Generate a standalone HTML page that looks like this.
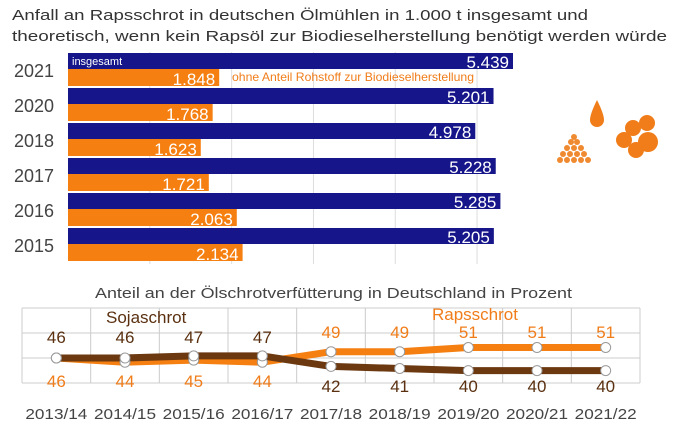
<!DOCTYPE html>
<html><head><meta charset="utf-8"><style>
body{margin:0;background:#fff;font-family:"Liberation Sans",sans-serif;}
#wrap{position:relative;width:688px;height:429px;overflow:hidden;}
</style></head><body>
<div id="wrap">
<svg id="svg" width="688" height="429" style="position:absolute;left:0;top:0">
<text x="12" y="20" font-size="15" fill="#333" textLength="576" lengthAdjust="spacingAndGlyphs">Anfall an Rapsschrot in deutschen Ölmühlen in 1.000 t insgesamt und</text>
<text x="12" y="41" font-size="15" fill="#333" textLength="655" lengthAdjust="spacingAndGlyphs">theoretisch, wenn kein Rapsöl zur Biodieselherstellung benötigt werden würde</text>
<g>
<path d="M597 100 Q590 114 590 120 A7 7 0 0 0 604 120 Q604 114 597 100Z" fill="#f07d1a"/>
<g fill="#f07d1a"><circle cx="633" cy="128" r="8"/><circle cx="647" cy="123" r="8"/><circle cx="624" cy="140" r="8"/><circle cx="648" cy="142" r="10"/><circle cx="636" cy="150" r="8"/></g>
<g fill="#f08a30"><circle cx="560" cy="160" r="3"/><circle cx="567" cy="160" r="3"/><circle cx="574" cy="160" r="3"/><circle cx="581" cy="160" r="3"/><circle cx="588" cy="160" r="3"/><circle cx="563" cy="154" r="3"/><circle cx="570" cy="154" r="3"/><circle cx="577" cy="154" r="3"/><circle cx="584" cy="154" r="3"/><circle cx="567" cy="148" r="3"/><circle cx="574" cy="148" r="3"/><circle cx="581" cy="148" r="3"/><circle cx="571" cy="142" r="3"/><circle cx="577" cy="142" r="3"/><circle cx="574" cy="137" r="3"/></g>
</g>
</svg>
</div>
<script>
const years=["2021","2020","2018","2017","2016","2015"];
const totalVals=[5439,5201,4978,5228,5285,5205];
const rapsVals=[1848,1768,1623,1721,2063,2134];
const seasons=["2013/14","2014/15","2015/16","2016/17","2017/18","2018/19","2019/20","2020/21","2021/22"];
const sojaVals=[46,46,47,47,42,41,40,40,40];
const rapsShare=[46,44,45,44,49,49,51,51,51];
const gridTicks=[1000,2000,3000,4000,5000];
const NS="http://www.w3.org/2000/svg";
const svg=document.getElementById('svg');
function mk(tag,attrs,parent){const e=document.createElementNS(NS,tag);for(const k in attrs)e.setAttribute(k,attrs[k]);(parent||svg).appendChild(e);return e;}
const fmt=v=>(v/1000).toFixed(3);
const x0=68,k=(513-68)/5439;
const xs=v=>x0+v*k;
const rowY=i=>53+i*35;
gridTicks.forEach(t=>{const l=mk('line',{x1:xs(t),x2:xs(t),y1:52,y2:264,stroke:'#ddd','stroke-width':1});

});
years.forEach((y,i)=>{
 const ty=mk('text',{x:14,y:rowY(i)+24,'font-size':18,fill:'#444'});ty.textContent=y;
 
 
 const b=mk('rect',{x:x0,y:rowY(i),width:xs(totalVals[i])-x0,height:16,fill:'#16168a'});
 
 
 const bt=mk('text',{x:xs(totalVals[i])-4,y:rowY(i)+15,'font-size':17,fill:'#fff','text-anchor':'end'});bt.textContent=fmt(totalVals[i]);
 
 
 const o=mk('rect',{x:x0,y:rowY(i)+16,width:xs(rapsVals[i])-x0,height:17,fill:'#f57f10'});
 
 
 const ot=mk('text',{x:xs(rapsVals[i])-4,y:rowY(i)+32,'font-size':17,fill:'#fff','text-anchor':'end'});ot.textContent=fmt(rapsVals[i]);
 
 
});
let lg=mk('text',{x:72,y:65,'font-size':11,fill:'#fff'});lg.textContent='insgesamt';


lg=mk('text',{x:232,y:81,'font-size':12,fill:'#f07d1a',textLength:242,lengthAdjust:'spacingAndGlyphs'});lg.textContent='ohne Anteil Rohstoff zur Biodieselherstellung';


let lt=mk('text',{x:95,y:298,'font-size':15,fill:'#444',textLength:477,lengthAdjust:'spacingAndGlyphs'});lt.textContent='Anteil an der Ölschrotverfütterung in Deutschland in Prozent';


const gx0=22,gx1=640,gy0=308,gy1=383,cw=(gx1-gx0)/9;
const lx=i=>gx0+cw*(i+0.5);
const ly=v=>358-(v-46)*2.1;
for(let i=0;i<=9;i++){const l=mk('line',{x1:gx0+cw*i,x2:gx0+cw*i,y1:gy0,y2:gy1,stroke:'#ccc'});

}
for(let j=0;j<=3;j++){const y=gy0+j*25;const l=mk('line',{x1:gx0,x2:gx1,y1:y,y2:y,stroke:'#ccc'});

}
function series(vals,color,name){
 const p=mk('polyline',{points:vals.map((v,i)=>lx(i)+','+ly(v)).join(' '),fill:'none',stroke:color,'stroke-width':7,'stroke-linejoin':'round'});
 
 
 return p;}
function dots(vals,name){vals.forEach((v,i)=>{const c=mk('circle',{cx:lx(i),cy:ly(v),r:5,fill:'#fff',stroke:'#999','stroke-width':1});
 
 });}
series(rapsShare,'#f57f10','raps');
series(sojaVals,'#6b3810','soja');
dots(rapsShare,'raps');dots(sojaVals,'soja');
seasons.forEach((s,i)=>{
 const sAbove=i<4;
 const st=mk('text',{x:lx(i),y:sAbove?343:392,'font-size':17,fill:'#5a3010','text-anchor':'middle'});st.textContent=sojaVals[i];
 
 
 const rt=mk('text',{x:lx(i),y:sAbove?387:338,'font-size':17,fill:'#f07d1a','text-anchor':'middle'});rt.textContent=rapsShare[i];
 
 
 const xl=mk('text',{x:lx(i),y:419,'font-size':15,fill:'#444','text-anchor':'middle',textLength:62,lengthAdjust:'spacingAndGlyphs'});xl.textContent=s;
 
 
});
let sl=mk('text',{x:106,y:323,'font-size':17,fill:'#5a3010'});sl.textContent='Sojaschrot';


sl=mk('text',{x:432,y:320,'font-size':17,fill:'#f07d1a'});sl.textContent='Rapsschrot';


</script>
</body></html>
